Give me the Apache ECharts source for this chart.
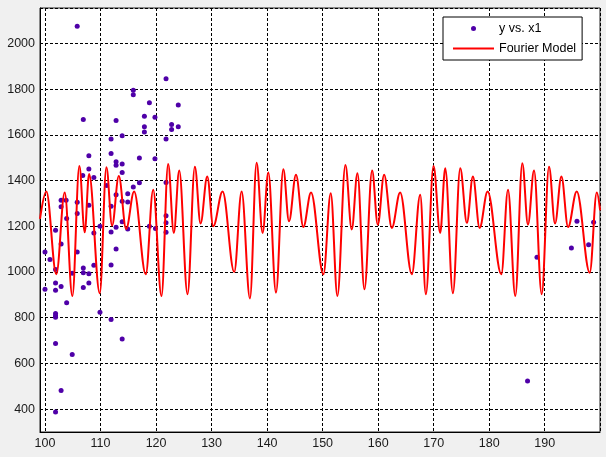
<!DOCTYPE html>
<html>
<head>
<meta charset="utf-8">
<style>
  html, body { margin: 0; padding: 0; background: #f0f0f0; }
  #chart { width: 606px; height: 457px; }
</style>
<script src="https://cdn.jsdelivr.net/npm/echarts@6.0.0/dist/echarts.min.js"></script>
</head>
<body>
<div id="chart"></div>
<script>
// data points: y vs. x1
const scatterX = [
  105.8, 106.9, 107.9, 107.9, 106.8, 108.8, 115.9, 115.9, 118.8, 121.8,
  124.0, 112.8, 117.9, 119.8, 122.8, 122.8, 124.0, 117.9, 117.9, 113.9,
  111.9, 121.8, 111.9, 117.0, 119.8, 112.8, 112.8, 113.9, 113.9, 115.9,
  117.0, 111.1, 102.9, 103.8, 102.9, 103.9, 105.8, 105.8, 107.9, 112.8,
  114.9, 114.9, 113.9, 111.9, 112.8, 113.9, 114.9, 118.8, 121.8, 121.8,
  121.8, 109.9, 100.0, 100.9, 100.0, 101.9, 101.9, 101.9, 101.9, 101.9,
  101.9, 101.9, 101.9, 101.9, 102.9, 102.9, 102.9, 103.9, 104.9, 104.9,
  105.8, 106.9, 106.9, 106.9, 107.9, 107.9, 108.8, 108.8, 109.9, 111.9,
  111.9, 111.9, 112.8, 113.9, 119.9, 121.8, 186.9, 188.6, 194.8, 195.8,
  197.9, 198.8
];
const scatterY = [
  2075, 1667, 1509, 1451, 1422, 1413, 1795, 1776, 1740, 1845,
  1731, 1663, 1681, 1677, 1645, 1623, 1636, 1636, 1613, 1596,
  1582, 1582, 1518, 1499, 1495, 1482, 1467, 1472, 1435, 1372,
  1390, 1378, 1314, 1314, 1285, 1234, 1305, 1256, 1292, 1338,
  1342, 1306, 1309, 1288, 1196, 1220, 1188, 1200, 1246, 1215,
  1392, 1200, 1088, 1055, 924, 1183, 1011, 952, 920, 818,
  809, 802, 687, 388, 482, 937, 1123, 865, 639, 995,
  1088, 1018, 997, 932, 992, 952, 1171, 1029, 824, 1175,
  1031, 792, 1101, 707, 1190, 1174, 523, 1064, 1105, 1222,
  1119, 1218
];

// Fourier model, turning points
const fitX = [
  99.1, 100.24, 102.04, 103.55, 104.93, 106.19, 107.15, 107.94, 109.86, 111.06,
  112.08, 113.29, 114.61, 116.05, 118.15, 119.48, 120.98, 122.18, 123.2, 124.17,
  125.67, 126.99, 128.01, 129.22, 130.3, 131.98, 134.08, 135.41, 136.91, 138.11,
  139.19, 140.22, 141.6, 142.92, 143.94, 145.2, 146.53, 147.91, 150.14, 151.46,
  152.66, 154.1, 155.24, 156.27, 157.53, 158.91, 159.93, 161.07, 162.46, 163.96,
  166.06, 167.57, 168.59, 169.97, 171.17, 172.08, 173.46, 174.78, 175.98, 177.06,
  178.27, 179.71, 182.18, 183.38, 184.7, 185.96, 186.98, 188.07, 189.45, 190.77,
  191.85, 193.0, 194.2, 195.76, 198.1, 199.37, 199.97
];
const fitY = [
  1232, 1352, 990, 1348, 895, 1464, 1174, 1429, 907, 1458,
  1203, 1420, 1188, 1352, 990, 1360, 895, 1473, 1171, 1444,
  903, 1461, 1212, 1418, 1200, 1352, 1000, 1352, 884, 1478,
  1171, 1435, 910, 1449, 1222, 1425, 1197, 1348, 990, 1345,
  895, 1468, 1186, 1432, 924, 1444, 1207, 1425, 1193, 1348,
  990, 1338, 903, 1464, 1171, 1454, 907, 1454, 1215, 1418,
  1193, 1352, 990, 1360, 895, 1476, 1207, 1444, 903, 1461,
  1212, 1418, 1197, 1352, 997, 1348, 1270
];

const xTicks = [100, 110, 120, 130, 140, 150, 160, 170, 180, 190];
const yTicks = [400, 600, 800, 1000, 1200, 1400, 1600, 1800, 2000];

const font = "'Liberation Sans', Arial, sans-serif";
const gridLine = { show: true, lineStyle: { color: '#000', type: [3, 2], width: 1 } };

const chart = echarts.init(document.getElementById('chart'), null, { renderer: 'canvas' });

chart.setOption({
  backgroundColor: '#f0f0f0',
  animation: false,
  grid: {
    left: 40, top: 8, right: 6, bottom: 25,
    show: true, backgroundColor: '#fff', borderColor: '#222', borderWidth: 1
  },
  legend: {
    left: 443, top: 17,
    orient: 'vertical',
    backgroundColor: '#fff',
    borderColor: '#000', borderWidth: 1,
    padding: [4, 6, 4, 9],
    itemWidth: 41, itemHeight: 5, itemGap: 5,
    textStyle: { fontFamily: font, fontSize: 12.5, color: '#000', lineHeight: 15 },
    data: [
      { name: 'y vs. x1' },
      // line only in the key, no marker
      { name: 'Fourier Model', itemStyle: { opacity: 0 } }
    ]
  },
  xAxis: {
    type: 'value',
    min: 99.1, max: 199.95,
    splitNumber: 10,
    axisLine: { show: true, lineStyle: { color: '#000' } },
    axisTick: { show: false },
    splitLine: gridLine,
    axisLabel: {
      margin: 5,
      fontFamily: font, fontSize: 12.5, color: '#1a1a1a',
      formatter: v => (xTicks.includes(Math.round(v * 100) / 100) ? String(v) : '')
    }
  },
  yAxis: {
    type: 'value',
    min: 300, max: 2155,
    splitNumber: 9,
    axisLine: { show: true, lineStyle: { color: '#000' } },
    axisTick: { show: false },
    splitLine: gridLine,
    axisLabel: {
      margin: 5,
      fontFamily: font, fontSize: 12.5, color: '#1a1a1a',
      formatter: v => (yTicks.includes(Math.round(v)) ? String(v) : '')
    }
  },
  series: [
    {
      name: 'y vs. x1',
      type: 'scatter',
      symbol: 'circle',
      symbolSize: 5,
      itemStyle: { color: '#4f00a8', opacity: 1 },
      data: scatterX.map((x, i) => [x, scatterY[i]])
    },
    {
      name: 'Fourier Model',
      type: 'line',
      symbol: 'none',
      showSymbol: false,
      smooth: 0.36,
      smoothMonotone: 'x',
      lineStyle: { color: '#ff0000', width: 2 },
      itemStyle: { color: '#ff0000' },
      data: fitX.map((x, i) => [x, fitY[i]])
    }
  ]
});
</script>
</body>
</html>
